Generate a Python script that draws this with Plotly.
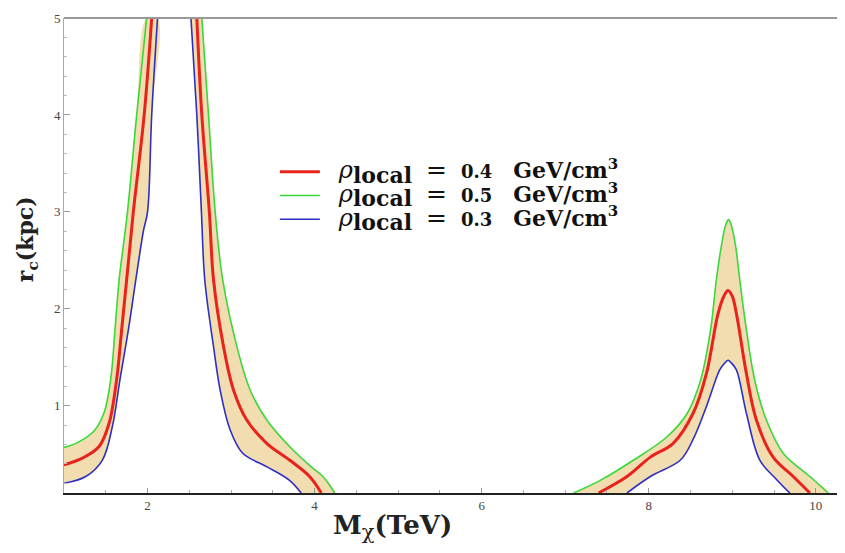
import plotly.graph_objects as go

# ---------------- data ----------------
# rho_local = 0.5 GeV/cm^3 (green)
g_rise_x = [1.00, 1.16, 1.36, 1.48, 1.56, 1.61, 1.66, 1.76, 1.87, 1.99]
g_rise_y = [0.57, 0.62, 0.74, 0.93, 1.28, 1.78, 2.30, 3.00, 4.00, 5.00]
g_fall_x = [2.65, 2.73, 2.81, 2.90, 3.07, 3.23, 3.43, 3.70, 3.96, 4.10, 4.24]
g_fall_y = [5.00, 4.00, 3.00, 2.30, 1.61, 1.16, 0.85, 0.58, 0.37, 0.27, 0.10]
g_pk2_x = [7.10, 7.42, 7.82, 8.22, 8.46, 8.62, 8.74, 8.81, 8.87, 8.92, 8.955, 8.99, 9.04, 9.09, 9.17, 9.27, 9.41, 9.61, 9.93, 10.15]
g_pk2_y = [0.10, 0.23, 0.44, 0.68, 0.92, 1.26, 1.78, 2.30, 2.65, 2.86, 2.92, 2.86, 2.65, 2.30, 1.78, 1.26, 0.85, 0.51, 0.27, 0.10]

# rho_local = 0.4 GeV/cm^3 (red)
r_rise_x = [1.00, 1.22, 1.42, 1.54, 1.63, 1.69, 1.75, 1.83, 1.96, 2.05]
r_rise_y = [0.39, 0.46, 0.58, 0.82, 1.27, 1.78, 2.30, 3.00, 4.00, 5.00]
r_fall_x = [2.59, 2.65, 2.74, 2.79, 2.91, 3.03, 3.19, 3.43, 3.70, 3.94, 4.08]
r_fall_y = [5.00, 4.00, 3.00, 2.30, 1.61, 1.16, 0.85, 0.61, 0.44, 0.27, 0.10]
r_pk2_x = [7.40, 7.74, 8.02, 8.29, 8.53, 8.69, 8.83, 8.90, 8.95, 9.00, 9.05, 9.17, 9.29, 9.49, 9.73, 9.93]
r_pk2_y = [0.10, 0.27, 0.47, 0.61, 0.92, 1.33, 1.95, 2.13, 2.19, 2.13, 1.95, 1.33, 0.85, 0.47, 0.27, 0.10]

# rho_local = 0.3 GeV/cm^3 (blue)
b_rise_x = [1.00, 1.26, 1.46, 1.58, 1.67, 1.77, 1.86, 1.95, 2.00, 2.05, 2.12]
b_rise_y = [0.20, 0.27, 0.44, 0.79, 1.27, 1.78, 2.30, 2.80, 3.00, 4.00, 5.00]
b_fall_x = [2.52, 2.59, 2.645, 2.685, 2.79, 2.87, 2.99, 3.14, 3.43, 3.70, 3.84]
b_fall_y = [5.00, 4.00, 3.00, 2.30, 1.61, 1.16, 0.75, 0.51, 0.37, 0.23, 0.10]
b_pk2_x = [7.74, 8.02, 8.38, 8.53, 8.69, 8.85, 8.91, 8.95, 8.99, 9.05, 9.17, 9.33, 9.53, 9.69]
b_pk2_y = [0.10, 0.27, 0.44, 0.65, 0.99, 1.37, 1.44, 1.47, 1.44, 1.37, 0.92, 0.44, 0.24, 0.10]

x_ticks = [2, 4, 6, 8, 10]
y_ticks = [1, 2, 3, 4, 5]
x_range = [1, 10.35]
y_range = [0.1, 5]
density_labels = ["0.4", "0.5", "0.3"]

def legend_label(val):
    return ("<span style='font-size:22px'>\u00a0\u00a0<span style='font-size:24px'><i>ρ</i></span>"
            "<sub><span style='font-size:22px'><b>local</b></span></sub>"
            "\u00a0\u00a0<span style='font-size:25px'>=</span>\u00a0\u00a0"
            "<span style='font-size:18px'><b>" + val + "</b></span>"
            "\u00a0\u00a0\u00a0<b>GeV/cm</b><sup><span style='font-size:15px'><b>3</b></span></sup></span>")

series_names = [legend_label(v) for v in density_labels]

RED = "#e8231c"
GREEN = "#3ad83a"
BLUE = "#2f2fc0"
BAND = "#f1ddb0"
SERIF = "Liberation Serif, Times New Roman, serif"
MATH = "DejaVu Serif, serif"
SMOOTH = 1.0

fig = go.Figure()

# ---------------- band fills (between green and blue) ----------------
band_polys = [
    (g_rise_x + b_rise_x[::-1], g_rise_y + b_rise_y[::-1]),
    (b_fall_x + g_fall_x[::-1], b_fall_y + g_fall_y[::-1]),
    (g_pk2_x + b_pk2_x[::-1], g_pk2_y + b_pk2_y[::-1]),
]
for px, py in band_polys:
    fig.add_trace(go.Scatter(
        x=px, y=py, mode="lines", fill="toself", fillcolor=BAND,
        line=dict(width=0, color=BAND, shape="spline", smoothing=SMOOTH),
        showlegend=False, hoverinfo="skip"))

def joined(a, b, c):
    return a + [None] + b + [None] + c

# ---------------- curves ----------------
fig.add_trace(go.Scatter(
    x=joined(r_rise_x, r_fall_x, r_pk2_x), y=joined(r_rise_y, r_fall_y, r_pk2_y),
    mode="lines", name=series_names[0], connectgaps=False,
    line=dict(color=RED, width=3, shape="spline", smoothing=SMOOTH)))
fig.add_trace(go.Scatter(
    x=joined(g_rise_x, g_fall_x, g_pk2_x), y=joined(g_rise_y, g_fall_y, g_pk2_y),
    mode="lines", name=series_names[1], connectgaps=False,
    line=dict(color=GREEN, width=1.6, shape="spline", smoothing=SMOOTH)))
fig.add_trace(go.Scatter(
    x=joined(b_rise_x, b_fall_x, b_pk2_x), y=joined(b_rise_y, b_fall_y, b_pk2_y),
    mode="lines", name=series_names[2], connectgaps=False,
    line=dict(color=BLUE, width=1.6, shape="spline", smoothing=SMOOTH)))

# page body has an 8px default margin: figure is sized so the plot area
# lands at x 64..845, y 18..493 of the window
fig.update_layout(
    width=837, height=545,
    margin=dict(l=56, r=0, t=10, b=60),
    paper_bgcolor="white", plot_bgcolor="white",
    font=dict(family=SERIF, color="#222"),
    showlegend=True,
    legend=dict(x=0.27, y=0.712, xanchor="left", yanchor="top",
                bgcolor="rgba(255,255,255,0)", borderwidth=0,
                font=dict(family=MATH, size=16, color="#111"),
                tracegroupgap=0, itemwidth=40),
    xaxis=dict(range=x_range, tickvals=x_ticks, ticktext=[str(v) for v in x_ticks],
               showgrid=False, zeroline=False,
               showline=True, linecolor="#222", linewidth=1.5,
               ticks="inside", ticklen=5, tickcolor="#999", tickwidth=1,
               minor=dict(dtick=0.5, ticks="inside", ticklen=3, tickcolor="#aaa"),
               tickfont=dict(family=SERIF, size=13, color="#444")),
    yaxis=dict(range=y_range, tickvals=y_ticks, ticktext=[str(v) for v in y_ticks],
               showgrid=False, zeroline=False,
               showline=True, linecolor="#aaa", linewidth=1,
               ticks="inside", ticklen=6, tickcolor="#999", tickwidth=1,
               minor=dict(tick0=0, dtick=0.2, ticks="inside", ticklen=3, tickcolor="#bbb"),
               tickfont=dict(family=SERIF, size=13, color="#444")),
)

# top frame line
fig.add_shape(type="line", xref="paper", yref="paper", x0=0, x1=1, y0=1, y1=1,
              line=dict(color="#999", width=2))

# axis titles
fig.add_annotation(text="<b>M</b><sub><span style='font-size:21px'>χ</span></sub><b>(TeV)</b>",
                   xref="paper", yref="paper",
                   x=0.42, y=-0.072, xanchor="center", yanchor="middle", showarrow=False,
                   font=dict(family=MATH, size=26, color="#222"))
fig.add_annotation(text="<b>r<sub>c</sub>(kpc)</b>", xref="paper", yref="paper",
                   x=-0.047, y=0.535, xanchor="center", yanchor="middle", showarrow=False,
                   textangle=-90, font=dict(family=MATH, size=22, color="#222"))

fig.write_html("out.html")
